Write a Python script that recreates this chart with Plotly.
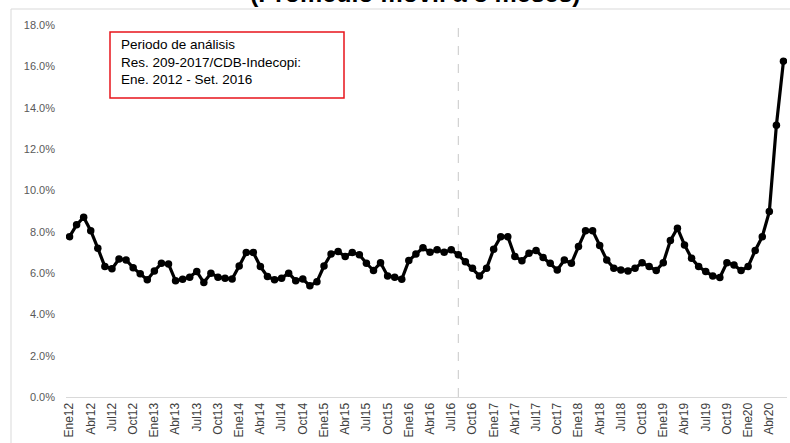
import plotly.graph_objects as go

months = ["Ene", "Feb", "Mar", "Abr", "May", "Jun", "Jul", "Ago", "Set", "Oct", "Nov", "Dic"]
years = ["12", "13", "14", "15", "16", "17", "18", "19", "20"]
categories = [m + y for y in years for m in months][:102]  # Ene12 .. Jun20

values_2012 = [7.76, 8.33, 8.70, 8.05, 7.20, 6.31, 6.20, 6.68, 6.63, 6.26, 5.96, 5.67]
values_2013 = [6.10, 6.47, 6.44, 5.62, 5.70, 5.80, 6.07, 5.54, 5.99, 5.80, 5.75, 5.71]
values_2014 = [6.34, 6.99, 6.99, 6.31, 5.83, 5.67, 5.75, 5.99, 5.63, 5.71, 5.38, 5.58]
values_2015 = [6.34, 6.92, 7.04, 6.80, 6.99, 6.88, 6.47, 6.12, 6.50, 5.86, 5.80, 5.70]
values_2016 = [6.60, 6.92, 7.22, 7.00, 7.12, 7.00, 7.12, 6.88, 6.55, 6.23, 5.86, 6.23]
values_2017 = [7.15, 7.76, 7.76, 6.80, 6.59, 6.96, 7.09, 6.75, 6.47, 6.15, 6.63, 6.47]
values_2018 = [7.28, 8.04, 8.05, 7.33, 6.63, 6.23, 6.15, 6.10, 6.23, 6.50, 6.31, 6.12]
values_2019 = [6.50, 7.57, 8.17, 7.36, 6.71, 6.31, 6.07, 5.86, 5.78, 6.50, 6.39, 6.12]
values_2020 = [6.31, 7.09, 7.76, 8.97, 13.15, 16.25]
values = (values_2012 + values_2013 + values_2014 + values_2015 + values_2016
          + values_2017 + values_2018 + values_2019 + values_2020)

tick_labels = categories[::3]
y_ticks = [0, 2, 4, 6, 8, 10, 12, 14, 16, 18]
cutoff_category = "Ago16"

title_text = "(Promedio móvil a 3 meses)"
box_lines = ["Periodo de análisis", "Res. 209-2017/CDB-Indecopi:", "Ene. 2012 - Set. 2016"]

W, H = 790, 443
# plot area in page pixels: x 66..787, y 25..397
PL, PR, PT, PB = 66, 787, 25, 397
ML, MR, MT, MB = PL, W - PR, PT, H - PB
PW, PH = PR - PL, PB - PT


def px_x(p):
    return (p - PL) / PW


def px_y(p):
    return (PB - p) / PH


fig = go.Figure()
fig.add_trace(go.Scatter(
    x=categories, y=values, mode="lines+markers",
    line=dict(color="black", width=3.2),
    marker=dict(color="black", size=7.5),
    showlegend=False, hoverinfo="skip",
))

cut_idx = categories.index(cutoff_category)
fig.add_shape(type="line", xref="x", yref="y", x0=cut_idx, x1=cut_idx, y0=0, y1=18.2,
              line=dict(color="#c8c8c8", width=1, dash="dash"), layer="below")

# outer chart border (light grey)
fig.add_shape(type="rect", xref="paper", yref="paper",
              x0=px_x(11), x1=px_x(805), y0=px_y(470), y1=px_y(9),
              line=dict(color="#d9d9d9", width=1), layer="below")

# red annotation box
fig.add_shape(type="rect", xref="paper", yref="paper",
              x0=px_x(110), x1=px_x(344), y0=px_y(98), y1=px_y(32),
              line=dict(color="#e8141b", width=1.5), fillcolor="white")
fig.add_annotation(xref="paper", yref="paper", x=px_x(119), y=px_y(35),
                   xanchor="left", yanchor="top", align="left", showarrow=False,
                   text="<br>".join(box_lines),
                   font=dict(family="Liberation Sans, Arial", size=13.5, color="black"))

fig.add_annotation(xref="paper", yref="paper", x=px_x(415), y=px_y(9), yanchor="bottom",
                   showarrow=False, text="<b>" + title_text + "</b>",
                   font=dict(family="Liberation Sans, Arial", size=25, color="black"))

fig.update_layout(
    width=W, height=H,
    margin=dict(l=ML, r=MR, t=MT, b=MB, autoexpand=False),
    paper_bgcolor="white", plot_bgcolor="white",
    font=dict(family="Liberation Sans, Arial", size=11, color="#595959"),
    xaxis=dict(
        type="category", range=[-0.5, len(categories) - 0.5],
        tickmode="array", tickvals=tick_labels, ticktext=tick_labels,
        tickangle=-90, showgrid=False, zeroline=False,
        showline=True, linecolor="#d9d9d9", linewidth=1, ticks="",
        tickfont=dict(size=12, color="#404040"), automargin=False,
    ),
    yaxis=dict(
        range=[0, 18], tickvals=y_ticks, ticktext=[f"{v:.1f}%" for v in y_ticks],
        showgrid=False, zeroline=False, showline=False, ticks="",
        ticklabelstandoff=10, tickfont=dict(size=11, color="#595959"), automargin=False,
    ),
)

fig.write_html("out.html", config={"displayModeBar": False},
               post_script="document.body.style.margin='0px';")
